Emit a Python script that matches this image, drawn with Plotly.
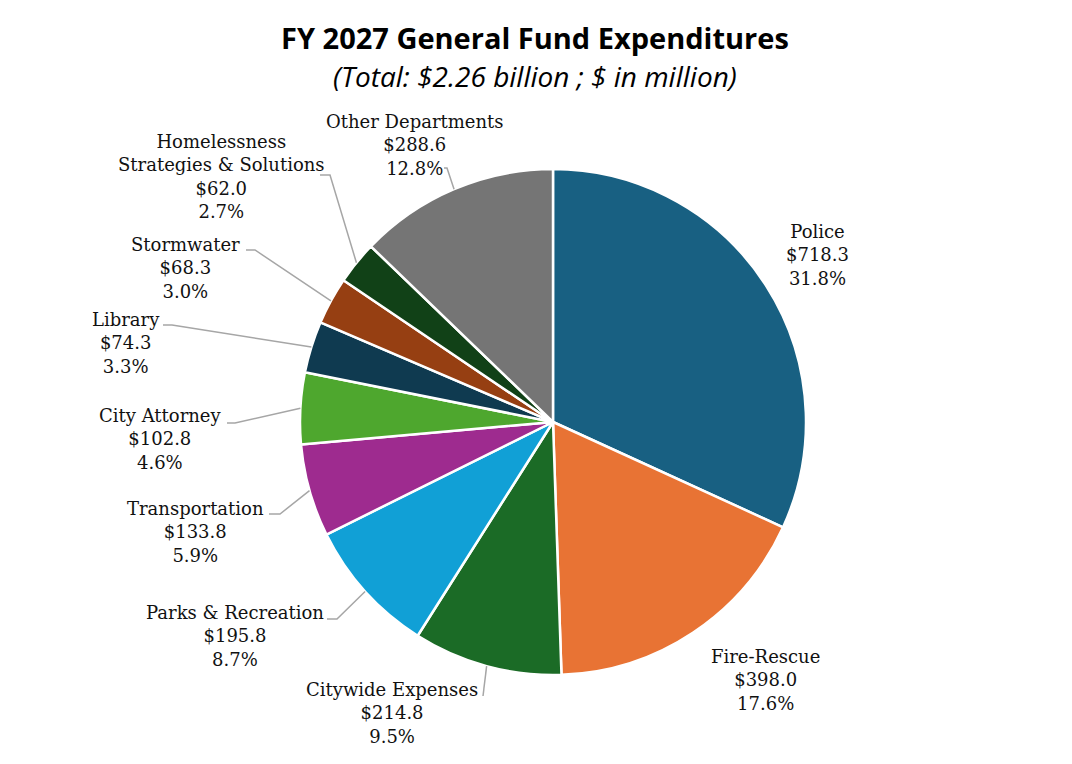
import math
import plotly.graph_objects as go

# FY 2027 general fund, $ in million
departments = [
    "Police", "Fire-Rescue", "Citywide Expenses", "Parks & Recreation",
    "Transportation", "City Attorney", "Library", "Stormwater",
    "Homelessness<br>Strategies & Solutions", "Other Departments",
]
amounts = [718.3, 398.0, 214.8, 195.8, 133.8, 102.8, 74.3, 68.3, 62.0, 288.6]
colors = [
    "#186082", "#E87334", "#1B6B26", "#11A0D6", "#9E2B8F",
    "#4EA72E", "#0F3A50", "#963F12", "#114117", "#757575",
]

# page body has an 8px margin, so the figure is 16px smaller than the window
OFF = 8
W, H = 1072 - 2 * OFF, 764 - 2 * OFF
cx, cy, R = 553, 422, 253  # pie centre / radius in window pixels

# label block centre (px) and connector bend points (px), one per slice
label_layout = [
    (817, 255, None),
    (765, 680, None),
    (392, 713, [(483, 696)]),
    (235, 636, [(337, 619), (327, 619)]),
    (195, 532, [(280, 514), (269, 514)]),
    (160, 439, [(235, 423), (227, 423)]),
    (126, 343, [(172, 325), (163, 325)]),
    (185, 268, [(255, 250), (246, 250)]),
    (221, 176, [(330, 175), (320, 175)]),
    (415, 145, [(447, 168), (444, 168)]),
]


def px(x, y):
    return (x - OFF) / W, 1 - (y - OFF) / H


fig = go.Figure()
x0, y1 = px(cx - R, cy - R)
x1, y0 = px(cx + R, cy + R)
fig.add_trace(go.Pie(
    labels=departments,
    values=amounts,
    sort=False,
    direction="clockwise",
    rotation=0,
    marker=dict(colors=colors, line=dict(color="white", width=2.5)),
    textinfo="none",
    hoverinfo="label+value+percent",
    showlegend=False,
    domain=dict(x=[x0, x1], y=[y0, y1]),
))

total = sum(amounts)
label_font = dict(family="DejaVu Serif", size=18, color="#111111")
annotations = []
shapes = []
cum = 0
for name, val, (lx, ly, bends) in zip(departments, amounts, label_layout):
    mid = (cum + val / 2) / total * 2 * math.pi
    cum += val
    text = f"{name}<br>${val:.1f}<br>{val / total * 100:.1f}%"
    x, y = px(lx, ly)
    annotations.append(dict(x=x, y=y, xref="paper", yref="paper", text=text,
                            showarrow=False, align="center", xanchor="center",
                            yanchor="middle", font=label_font))
    if bends:
        ex, ey = cx + R * math.sin(mid), cy - R * math.cos(mid)
        pts = [px(ex, ey)] + [px(*b) for b in bends]
        path = "M " + " L ".join(f"{p[0]},{p[1]}" for p in pts)
        shapes.append(dict(type="path", path=path, xref="paper", yref="paper",
                           line=dict(color="#A6A6A6", width=1.5)))

tx, ty = px(535, 37)
annotations.append(dict(x=tx, y=ty, xref="paper", yref="paper", showarrow=False,
                        xanchor="center", yanchor="middle",
                        text="<b>FY 2027 General Fund Expenditures</b>",
                        font=dict(family="Open Sans", size=29, color="black")))
sx, sy = px(535, 76)
annotations.append(dict(x=sx, y=sy, xref="paper", yref="paper", showarrow=False,
                        xanchor="center", yanchor="middle",
                        text="<i>(Total: $2.26 billion ; $ in million)</i>",
                        font=dict(family="Open Sans", size=28, color="black")))

fig.update_layout(
    width=W, height=H,
    margin=dict(l=0, r=0, t=0, b=0),
    paper_bgcolor="white",
    plot_bgcolor="white",
    annotations=annotations,
    shapes=shapes,
)

fig.write_html("out.html")
